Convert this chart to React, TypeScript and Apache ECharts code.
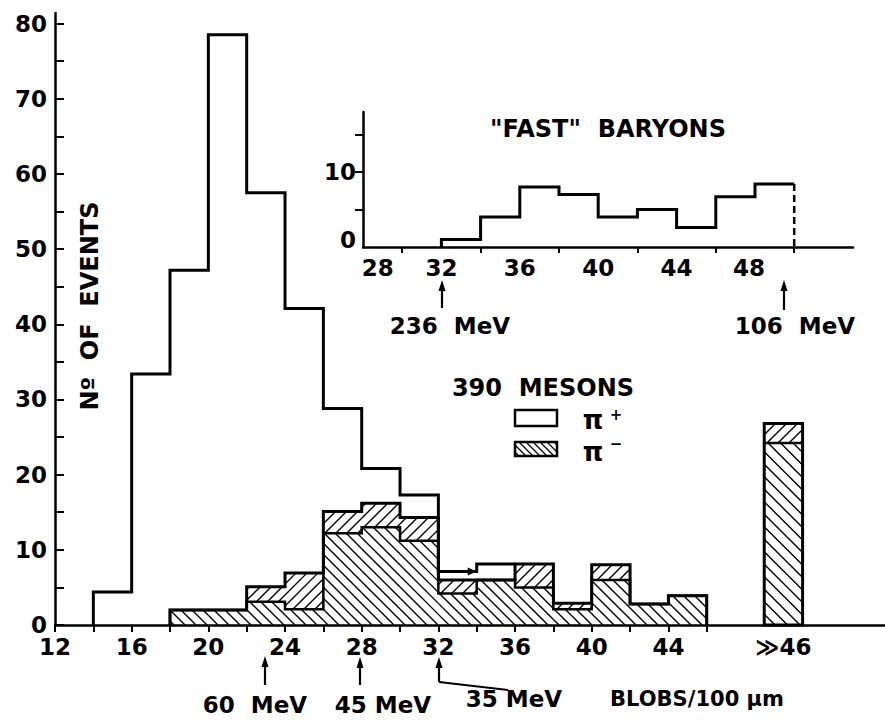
import React, { useEffect, useRef } from 'react';
import * as echarts from 'echarts';

// ---------- data ----------
const BIN_WIDTH = 2;
const mainBinStarts = [14, 16, 18, 20, 22, 24, 26, 28, 30, 32, 34, 36, 38, 40, 42, 44];
const openCounts = [4.4, 33.4, 47.2, 78.5, 57.5, 42.1, 28.8, 20.8, 17.3, 7.1, 8.1, null, null, null, null, null];
const piMinusCounts = [null, null, 2, 2, 3.1, 2.1, 12.2, 13, 11.2, 4.2, 6, 5, 2.1, 6, 2.8, 3.9];
const stackedTop = [null, null, null, null, 5.1, 6.9, 15.1, 16.2, 14.3, 6.0, null, 8.1, 2.9, 8.0, null, null];
const overflowStart = [49];
const overflowPiMinus = [24.2];
const overflowTop = [26.8];

const mainXTicks = [12, 14, 16, 18, 20, 22, 24, 26, 28, 30, 32, 34, 36, 38, 40, 42, 44, 46];
const mainXLabels = [12, 16, 20, 24, 28, 32, 36, 40, 44, 50];
const overflowLabel = '\u226B46';
const mainYTicks = [0, 5, 10, 15, 20, 25, 30, 35, 40, 45, 50, 55, 60, 65, 70, 75, 80];
const mainYLabels = [0, 10, 20, 30, 40, 50, 60, 70, 80];

const insetBinStarts = [32, 34, 36, 38, 40, 42, 44, 46, 48];
const insetCounts = [1, 4, 8, 7, 4, 5, 2.6, 6.7, 8.4];
const insetXTicks = [30, 34, 38, 42, 46, 50];
// label anchor positions as drawn (28 sits right of the origin, 0 sits above the axis)
const insetXLabelPos = [28.75, 32, 36, 40, 44, 47.7];
const insetYTicks = [5, 10, 15];
const insetYLabelPos = [0.9, 10];

const FONT = "'DejaVu Sans', sans-serif";
const WEIGHT = 'bold';
const BLACK = '#000';

// ---------- helpers ----------
function hatchLines(xa: number, xb: number, ya: number, yb: number, dir: 'back' | 'fwd', h: number, lw = 1.4) {
  const out: any[] = [];
  const style = { stroke: BLACK, lineWidth: lw };
  if (xb - xa < 1 || yb - ya < 1) return out;
  if (dir === 'back') {
    const kMin = Math.ceil((ya - xb) / h);
    const kMax = Math.floor((yb - xa) / h);
    for (let k = kMin; k <= kMax; k++) {
      const c = k * h;
      const s = Math.max(xa, ya - c);
      const e = Math.min(xb, yb - c);
      if (e - s > 0.5) out.push({ type: 'line', shape: { x1: s, y1: s + c, x2: e, y2: e + c }, style });
    }
  } else {
    const kMin = Math.ceil((xa + ya) / h);
    const kMax = Math.floor((xb + yb) / h);
    for (let k = kMin; k <= kMax; k++) {
      const c = k * h;
      const s = Math.max(xa, c - yb);
      const e = Math.min(xb, c - ya);
      if (e - s > 0.5) out.push({ type: 'line', shape: { x1: s, y1: c - s, x2: e, y2: c - e }, style });
    }
  }
  return out;
}

function stepRuns(starts: number[], vals: (number | null)[], coord: (p: number[]) => number[], dropLeft: boolean, dropRight: boolean) {
  const runs: number[][][] = [];
  let cur: number[][] | null = null;
  for (let i = 0; i < starts.length; i++) {
    const v = vals[i];
    const x0 = starts[i];
    const x1 = x0 + BIN_WIDTH;
    if (v == null) {
      if (cur) {
        if (dropRight) cur.push(coord([starts[i - 1] + BIN_WIDTH, 0]));
        runs.push(cur);
        cur = null;
      }
      continue;
    }
    if (!cur) {
      cur = [];
      if (dropLeft) cur.push(coord([x0, 0]));
    }
    cur.push(coord([x0, v]));
    cur.push(coord([x1, v]));
  }
  if (cur) {
    if (dropRight) cur.push(coord([starts[starts.length - 1] + BIN_WIDTH, 0]));
    runs.push(cur);
  }
  return runs;
}

const HATCH_BACK = 11;
const HATCH_FWD = 11;

function renderMain(params: any, api: any) {
  const coord = (p: number[]) => api.coord(p);
  const children: any[] = [];
  for (let i = 0; i < mainBinStarts.length; i++) {
    const m = piMinusCounts[i];
    if (m == null) continue;
    const a = coord([mainBinStarts[i], m]);
    const b = coord([mainBinStarts[i] + BIN_WIDTH, 0]);
    children.push(...hatchLines(a[0], b[0], a[1], b[1], 'back', HATCH_BACK));
    const t = stackedTop[i];
    if (t != null) {
      const c = coord([mainBinStarts[i], t]);
      children.push(...hatchLines(c[0], b[0], c[1], a[1], 'fwd', HATCH_FWD));
    }
  }
  for (let i = 0; i < overflowStart.length; i++) {
    const x0 = overflowStart[i];
    const x1 = x0 + BIN_WIDTH;
    const a = coord([x0, overflowPiMinus[i]]);
    const b = coord([x1, 0]);
    const c = coord([x0, overflowTop[i]]);
    children.push(...hatchLines(a[0], b[0], a[1], b[1], 'back', 12.5));
    children.push(...hatchLines(c[0], b[0], c[1], a[1], 'fwd', HATCH_FWD));
    children.push({ type: 'rect', shape: { x: c[0], y: c[1], width: b[0] - c[0], height: b[1] - c[1] }, style: { fill: null, stroke: BLACK, lineWidth: 3 } });
    children.push({ type: 'line', shape: { x1: a[0], y1: a[1], x2: b[0], y2: a[1] }, style: { stroke: BLACK, lineWidth: 2.5 } });
  }
  const lineStyle = { fill: null, stroke: BLACK, lineWidth: 3, lineJoin: 'miter' };
  const totals = mainBinStarts.map((_, i) => (stackedTop[i] != null ? stackedTop[i] : piMinusCounts[i]));
  for (const r of stepRuns(mainBinStarts, openCounts, coord, true, false)) children.push({ type: 'polyline', shape: { points: r }, style: lineStyle });
  for (const r of stepRuns(mainBinStarts, piMinusCounts, coord, true, true)) children.push({ type: 'polyline', shape: { points: r }, style: { ...lineStyle, lineWidth: 2.5 } });
  for (const r of stepRuns(mainBinStarts, totals, coord, true, true)) children.push({ type: 'polyline', shape: { points: r }, style: lineStyle });
  const idx = mainBinStarts.indexOf(32);
  const ah = coord([mainBinStarts[idx] + BIN_WIDTH, openCounts[idx] as number]);
  children.push({ type: 'polygon', shape: { points: [[ah[0] - 9, ah[1] - 4], [ah[0], ah[1]], [ah[0] - 9, ah[1] + 4]] }, style: { fill: BLACK } });
  return { type: 'group', children };
}

function renderInset(params: any, api: any) {
  const coord = (p: number[]) => api.coord(p);
  const children: any[] = [];
  for (const r of stepRuns(insetBinStarts, insetCounts, coord, true, false)) children.push({ type: 'polyline', shape: { points: r }, style: { fill: null, stroke: BLACK, lineWidth: 3 } });
  const last = insetBinStarts.length - 1;
  const p1 = coord([insetBinStarts[last] + BIN_WIDTH, insetCounts[last]]);
  const p0 = coord([insetBinStarts[last] + BIN_WIDTH, 0]);
  children.push({ type: 'line', shape: { x1: p1[0], y1: p1[1], x2: p0[0], y2: p0[1] }, style: { stroke: BLACK, lineWidth: 2.5, lineDash: [7, 4] } });
  return { type: 'group', children };
}

function arrowUp(x: number, yTop: number, yBottom: number) {
  return [
    { type: 'line', shape: { x1: x, y1: yTop + 6, x2: x, y2: yBottom }, style: { stroke: BLACK, lineWidth: 2.2 } },
    { type: 'polygon', shape: { points: [[x - 3.5, yTop + 11], [x, yTop], [x + 3.5, yTop + 11]] }, style: { fill: BLACK } },
  ];
}

function txt(text: string, x: number, y: number, size: number, extra: any = {}) {
  return {
    type: 'text',
    x,
    y,
    ...extra,
    style: {
      text,
      fontSize: size,
      fontFamily: FONT,
      fontWeight: WEIGHT,
      fill: BLACK,
      align: 'center',
      verticalAlign: 'middle',
      textAlign: 'center',
      textVerticalAlign: 'middle',
    },
  };
}

function legendHatch() {
  return hatchLines(515, 557, 442, 456, 'back', 7, 1.3);
}

export default function App() {
  const ref = useRef<HTMLDivElement>(null);
  useEffect(() => {
    if (!ref.current) return;
    const chart = echarts.init(ref.current, undefined, { renderer: 'svg' });
    const axisLine = { show: true, lineStyle: { color: BLACK, width: 2.5 } };
    const lbl = { fontSize: 23, fontFamily: FONT, fontWeight: WEIGHT, color: BLACK };
    const option: any = {
      animation: false,
      backgroundColor: '#fff',
      grid: [
        { left: 55, top: 13, width: 830, height: 612 },
        { left: 363, top: 112, width: 490, height: 135 },
      ],
      xAxis: [
        {
          gridIndex: 0, type: 'value', min: 12, max: 55.3, interval: 2,
          axisLine,
          axisTick: { show: true, customValues: mainXTicks, length: 7, lineStyle: { color: BLACK, width: 2 } },
          axisLabel: { ...lbl, customValues: mainXLabels, formatter: (v: number) => (v === 50 ? overflowLabel : String(v)), margin: 10 },
          splitLine: { show: false },
        },
        {
          gridIndex: 1, type: 'value', min: 28, max: 53, interval: 2,
          axisLine,
          axisTick: { show: true, customValues: insetXTicks, length: 6, lineStyle: { color: BLACK, width: 2 } },
          axisLabel: { ...lbl, customValues: insetXLabelPos, formatter: (v: number) => String(Math.round(v / 4) * 4), margin: 9 },
          splitLine: { show: false },
        },
      ],
      yAxis: [
        {
          gridIndex: 0, type: 'value', min: 0, max: 81.4, interval: 10,
          axisLine,
          axisTick: { show: true, inside: true, customValues: mainYTicks, length: 9, lineStyle: { color: BLACK, width: 2 } },
          axisLabel: { ...lbl, customValues: mainYLabels, margin: 8 },
          splitLine: { show: false },
        },
        {
          gridIndex: 1, type: 'value', min: 0, max: 18, interval: 5,
          axisLine,
          axisTick: { show: true, customValues: insetYTicks, length: 8, lineStyle: { color: BLACK, width: 2 } },
          axisLabel: { ...lbl, customValues: insetYLabelPos, formatter: (v: number) => String(Math.round(v / 10) * 10), margin: 7 },
          splitLine: { show: false },
        },
      ],
      series: [
        { type: 'custom', name: 'mesons', xAxisIndex: 0, yAxisIndex: 0, data: [[0, 0]], renderItem: renderMain, silent: true, clip: false },
        { type: 'custom', name: 'fast baryons', xAxisIndex: 1, yAxisIndex: 1, data: [[0, 0]], renderItem: renderInset, silent: true, clip: false },
      ],
      graphic: [
        txt('Nº  OF  EVENTS', 90, 306, 24, { rotation: Math.PI / 2 }),
        txt('"FAST"  BARYONS', 608, 129, 24),
        txt('390  MESONS', 543, 388, 24),
        { type: 'rect', shape: { x: 515, y: 410, width: 42, height: 16 }, style: { fill: '#fff', stroke: BLACK, lineWidth: 2.5 } },
        ...legendHatch(),
        { type: 'rect', shape: { x: 515, y: 442, width: 42, height: 14 }, style: { fill: null, stroke: BLACK, lineWidth: 2.5 } },
        txt('π', 593, 420, 26),
        txt('+', 616, 415, 15),
        txt('π', 593, 452, 26),
        txt('−', 616, 444, 15),
        ...arrowUp(442, 280, 308),
        ...arrowUp(784, 280, 310),
        txt('236  MeV', 450, 326, 23),
        txt('106  MeV', 795, 326, 23),
        ...arrowUp(265, 656, 685),
        ...arrowUp(360, 657, 685),
        ...arrowUp(439, 657, 682),
        { type: 'line', shape: { x1: 439, y1: 682, x2: 508, y2: 690 }, style: { stroke: BLACK, lineWidth: 2 } },
        txt('60  MeV', 255, 705, 23),
        txt('45 MeV', 383, 705, 23),
        txt('35 MeV', 514, 699, 23),
        txt('BLOBS/100 μm', 697, 699, 21),
      ],
    };
    chart.setOption(option);
    return () => chart.dispose();
  }, []);
  return <div ref={ref} style={{ position: 'fixed', left: 0, top: 0, width: 885, height: 722, background: '#fff' }} />;
}
